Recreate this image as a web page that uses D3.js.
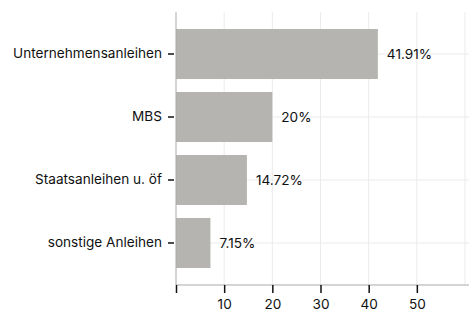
<!DOCTYPE html>
<html>
<head>
<meta charset="utf-8">
<script src="https://cdn.jsdelivr.net/npm/d3@7"></script>
<style>
  body { margin: 0; background: #fff; }
  text { font-family: Inter, "Noto Sans", sans-serif; }
</style>
</head>
<body>
<div id="chart"></div>
<script>
const width = 469;
const height = 315;

// data
const categories = ['Unternehmensanleihen', 'MBS', 'Staatsanleihen u. öf', 'sonstige Anleihen'];
const values = [41.91, 20, 14.72, 7.15];
const valueLabels = ['41.91%', '20%', '14.72%', '7.15%'];
const xTicks = [0, 10, 20, 30, 40, 50];
const xGrid = [10, 20, 30, 40, 50, 60];

const margin = { top: 12, right: 4, bottom: 30, left: 176 };

const svg = d3.select('#chart')
  .append('svg')
  .attr('width', width)
  .attr('height', height);

const x = d3.scaleLinear()
  .domain([0, 60])
  .range([margin.left, 465]);

const y = d3.scaleBand()
  .domain(categories)
  .range([margin.top, height - margin.bottom])
  .paddingInner(0.206)
  .paddingOuter(0.27);

// grid lines
svg.append('g')
  .selectAll('line')
  .data(xGrid)
  .join('line')
  .attr('x1', d => x(d))
  .attr('x2', d => x(d))
  .attr('y1', margin.top)
  .attr('y2', height - margin.bottom)
  .attr('stroke', '#ebebeb')
  .attr('stroke-width', 1);

svg.append('g')
  .selectAll('line')
  .data(categories)
  .join('line')
  .attr('x1', margin.left)
  .attr('x2', 469)
  .attr('y1', d => y(d) + y.bandwidth() / 2)
  .attr('y2', d => y(d) + y.bandwidth() / 2)
  .attr('stroke', '#ebebeb')
  .attr('stroke-width', 1);

// bars
svg.selectAll('.bar')
  .data(values)
  .join('rect')
  .attr('class', 'bar')
  .attr('x', x(0))
  .attr('y', (d, i) => y(categories[i]))
  .attr('width', d => x(d) - x(0))
  .attr('height', y.bandwidth())
  .attr('fill', '#b5b4b0');

// value labels
svg.selectAll('.val')
  .data(values)
  .join('text')
  .attr('class', 'val')
  .attr('x', d => x(d) + 9)
  .attr('y', (d, i) => y(categories[i]) + y.bandwidth() / 2)
  .attr('dy', '0.35em')
  .attr('font-size', 13.6)
  .attr('fill', '#111')
  .text((d, i) => valueLabels[i]);

// y axis
const yAxis = svg.append('g')
  .attr('transform', `translate(${margin.left},0)`)
  .call(d3.axisLeft(y).tickSize(6).tickPadding(8));
yAxis.select('.domain').attr('stroke', '#aaa').attr('d', `M0,${margin.top}V${height - margin.bottom}`);
yAxis.selectAll('.tick line').attr('stroke', '#111').attr('transform', 'translate(-2,0)').attr('stroke-width', 1.5);
yAxis.selectAll('.tick text').attr('font-size', 13.6).attr('fill', '#111').attr('font-family', 'Inter, sans-serif');

// x axis
const xAxis = svg.append('g')
  .attr('transform', `translate(0,${height - margin.bottom})`)
  .call(d3.axisBottom(x).tickValues(xTicks).tickFormat(d => d === 0 ? '' : d).tickSize(8).tickPadding(6));
xAxis.select('.domain').attr('stroke', '#aaa').attr('d', `M${margin.left},0H469`);
xAxis.selectAll('.tick line').attr('stroke', '#111').attr('stroke-width', 1.5);
xAxis.selectAll('.tick text').attr('font-size', 13.6).attr('fill', '#111').attr('font-family', 'Inter, sans-serif');
</script>
</body>
</html>
